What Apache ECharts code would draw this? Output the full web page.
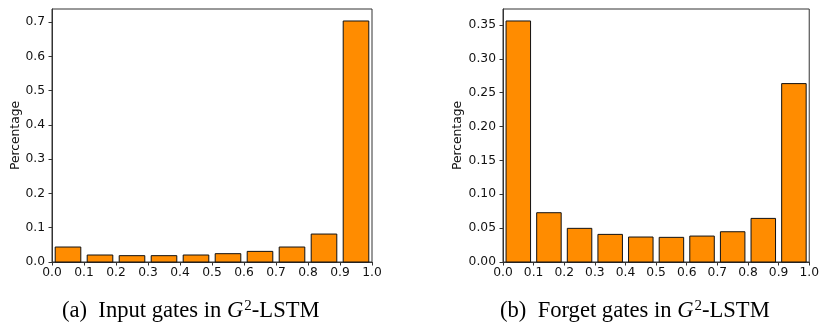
<!DOCTYPE html>
<html>
<head>
<meta charset="utf-8">
<script src="https://cdn.jsdelivr.net/npm/echarts@6/dist/echarts.min.js"></script>
<style>
  html, body { margin: 0; padding: 0; background: #fff; }
  #chart { width: 822px; height: 326px; }
</style>
</head>
<body>
<div id="chart"></div>
<script>
// histogram bins (left edge of each 0.1 wide bin)
var binStarts = [0.0, 0.1, 0.2, 0.3, 0.4, 0.5, 0.6, 0.7, 0.8, 0.9];
// (a) input gates
var inputGates = [0.0437, 0.0204, 0.0185, 0.0185, 0.0204, 0.0243, 0.031, 0.0437, 0.0816, 0.7036];
// (b) forget gates
var forgetGates = [0.356, 0.0728, 0.0497, 0.0408, 0.0369, 0.0364, 0.0383, 0.0447, 0.0644, 0.2635];
var captions = ['(a)  Input gates in ', '(b)  Forget gates in '];

var BIN = 0.1, RW = 0.8;
var pad = BIN * (1 - RW) / 2;

function pairs(vals) {
    return binStarts.map(function (s, i) { return [s, vals[i]]; });
}

function renderBar(params, api) {
    var s = api.value(0), h = api.value(1);
    var p0 = api.coord([s + pad, h]);
    var p1 = api.coord([s + BIN - pad, 0]);
    return {
        type: 'rect',
        shape: { x: p0[0], y: p0[1], width: p1[0] - p0[0], height: p1[1] - p0[1] },
        style: { fill: '#ff8c00', stroke: '#111', lineWidth: 1 }
    };
}

var tickFont = { color: '#111', fontFamily: 'DejaVu Sans', fontSize: 12.3 };

function xAx(idx) {
    return {
        type: 'value', gridIndex: idx, min: 0, max: 1, interval: 0.1,
        axisLine: { show: true, lineStyle: { color: '#333', width: 1 } },
        axisTick: { show: true, length: 3.5, lineStyle: { color: '#333' } },
        splitLine: { show: false },
        axisLabel: Object.assign({ margin: 5, formatter: function (v) { return v.toFixed(1); } }, tickFont)
    };
}

function yAx(idx, max, step, digits, gap) {
    return {
        type: 'value', gridIndex: idx, min: 0, max: max, interval: step,
        name: 'Percentage', nameLocation: 'middle', nameGap: gap,
        nameTextStyle: { color: '#111', fontFamily: 'DejaVu Sans', fontSize: 12.3 },
        axisLine: { show: true, lineStyle: { color: '#333', width: 1 } },
        axisTick: { show: true, length: 3.5, lineStyle: { color: '#333' } },
        splitLine: { show: false },
        axisLabel: Object.assign({ margin: 7, showMaxLabel: false,
            formatter: function (v) { return v.toFixed(digits); } }, tickFont)
    };
}

function caption(text, cx) {
    return {
        type: 'text', left: cx, top: 299,
        style: {
            text: '{n|' + text + '}{it|G}{sup|2}{n|-LSTM}',
            rich: {
                n: { fontFamily: 'Liberation Serif', fontSize: 22.6, fill: '#000' },
                it: { fontFamily: 'Liberation Serif', fontStyle: 'italic', fontSize: 22.6, fill: '#000' },
                sup: { fontFamily: 'Liberation Serif', fontSize: 15, fill: '#000', padding: [0, 0, 10, 1] }
            }
        }
    };
}

var myChart = echarts.init(document.getElementById('chart'));

var option = {
    animation: false,
    grid: [
        { left: 52, top: 9, width: 320, height: 253, show: true, borderColor: '#333', borderWidth: 1 },
        { left: 503, top: 9, width: 311, height: 253, show: true, borderColor: '#333', borderWidth: 1 }
    ],
    xAxis: [xAx(0), xAx(1)],
    yAxis: [
        yAx(0, 0.7386, 0.1, 1, 30),
        yAx(1, 0.3737, 0.05, 2, 39)
    ],
    series: [
        { type: 'custom', xAxisIndex: 0, yAxisIndex: 0, data: pairs(inputGates), renderItem: renderBar },
        { type: 'custom', xAxisIndex: 1, yAxisIndex: 1, data: pairs(forgetGates), renderItem: renderBar }
    ],
    graphic: [caption(captions[0], 62), caption(captions[1], 500)]
};

myChart.setOption(option);
</script>
</body>
</html>
